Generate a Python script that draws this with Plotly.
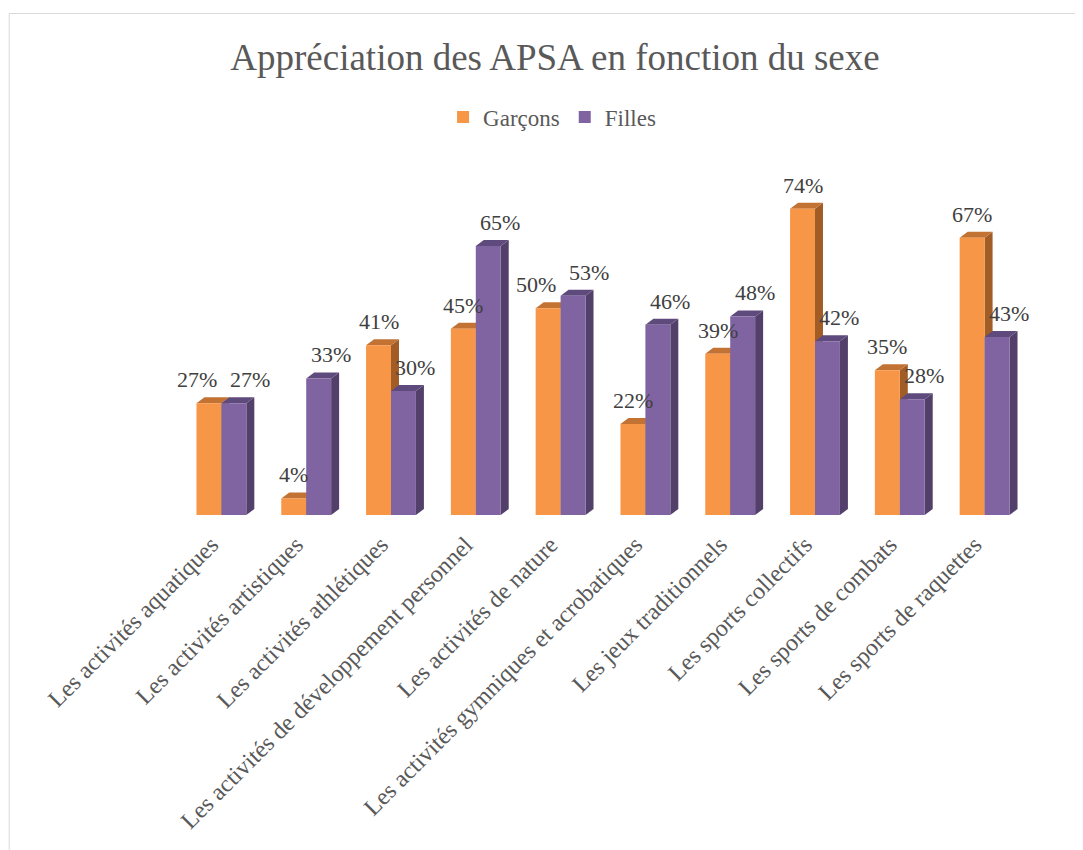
import plotly.graph_objects as go

categories = [
    "Les activités aquatiques",
    "Les activités artistiques",
    "Les activités athlétiques",
    "Les activités de développement personnel",
    "Les activités de nature",
    "Les activités gymniques et acrobatiques",
    "Les jeux traditionnels",
    "Les sports collectifs",
    "Les sports de combats",
    "Les sports de raquettes",
]
garcons = [27, 4, 41, 45, 50, 22, 39, 74, 35, 67]
filles = [27, 33, 30, 65, 53, 46, 48, 42, 28, 43]

series = [
    ("Garçons", garcons, "#F79646", "#C27334", "#A25D27"),
    ("Filles", filles, "#8064A2", "#5F4A7D", "#52406A"),
]

FONT = "Liberation Serif"
OFF = 8  # page body margin
PW, PH = 1083, 850
W, H = PW - OFF, PH - OFF
# plot area in page pixels
PX0, PX1, PY0, PY1 = 178.5, 1027.5, 184, 515
L, R = PX0 - OFF, PW - PX1
T, B = PY0 - OFF, PH - PY1
plot_w = PX1 - PX0
plot_h = PY1 - PY0
ymax = 80
xr = (-0.5, len(categories) - 0.5)

bw = 0.294  # width of one bar in category units
px_per_x = plot_w / (xr[1] - xr[0])
px_per_y = plot_h / ymax
dx = 8 / px_per_x
dy = 6 / px_per_y

idx = list(range(len(categories)))
fig = go.Figure()

shapes = []
annotations = []
for s, (name, vals, col, topc, sidec) in enumerate(series):
    offs = (s - 0.5) * bw
    fig.add_trace(go.Bar(
        x=idx, y=vals, name=name, marker=dict(color=col, line=dict(width=0)),
        width=bw, offset=[offs - bw / 2] * len(idx),
        hoverinfo="skip",
    ))
    for i, v in enumerate(vals):
        x0 = i + offs - bw / 2
        x1 = i + offs + bw / 2
        shapes.append(dict(
            type="path", xref="x", yref="y", layer="below",
            path=f"M{x1},0 L{x1},{v} L{x1+dx},{v+dy} L{x1+dx},{dy} Z",
            fillcolor=sidec, line=dict(width=0),
        ))
        shapes.append(dict(
            type="path", xref="x", yref="y", layer="below",
            path=f"M{x0},{v} L{x1},{v} L{x1+dx},{v+dy} L{x0+dx},{v+dy} Z",
            fillcolor=topc, line=dict(width=0),
        ))
        other = filles[i] if s == 0 else garcons[i]
        close = abs(v - other) < 6
        if s == 0:
            xs = -12 if close else 0
        else:
            xs = 16 if close else 12
        annotations.append(dict(
            x=i + offs, y=v + dy, xref="x", yref="y", text=f"{v}%",
            showarrow=False, yanchor="bottom", xanchor="center",
            xshift=xs, yshift=3,
            font=dict(family=FONT, size=22, color="#404040"),
        ))

# chart area border
shapes.append(dict(
    type="rect", xref="paper", yref="paper",
    x0=(OFF + 0.5 - PX0) / plot_w, x1=1.5,
    y0=-2, y1=1 + (PY0 - 13.5) / plot_h,
    line=dict(color="#D9D9D9", width=1), fillcolor="rgba(0,0,0,0)", layer="below",
))

fig.update_layout(
    width=W, height=H,
    margin=dict(l=L, r=R, t=T, b=B, pad=0),
    paper_bgcolor="white", plot_bgcolor="white",
    barmode="overlay",
    title=dict(
        text="Appréciation des APSA en fonction du sexe",
        x=(555 - OFF) / W, xanchor="center", y=1 - (57 - OFF) / H, yanchor="middle",
        font=dict(family=FONT, size=37, color="#595959"),
    ),
    legend=dict(
        orientation="h", x=(552 - PX0) / plot_w, xanchor="center",
        y=1 + (PY0 - 117) / plot_h, yanchor="middle",
        font=dict(family=FONT, size=23, color="#595959"),
        itemwidth=30, tracegroupgap=0,
        itemclick=False, itemdoubleclick=False,
    ),
    xaxis=dict(
        range=list(xr), tickmode="array", tickvals=idx, ticktext=categories,
        tickangle=-45, showgrid=False, zeroline=False, showline=False,
        ticks="", ticklabelshift=-10, ticklabelstandoff=10,
        tickfont=dict(family=FONT, size=24, color="#595959"),
    ),
    yaxis=dict(
        range=[0, ymax], visible=False, showgrid=False, zeroline=False,
    ),
    shapes=shapes,
    annotations=annotations,
)

fig.write_html("out.html")
